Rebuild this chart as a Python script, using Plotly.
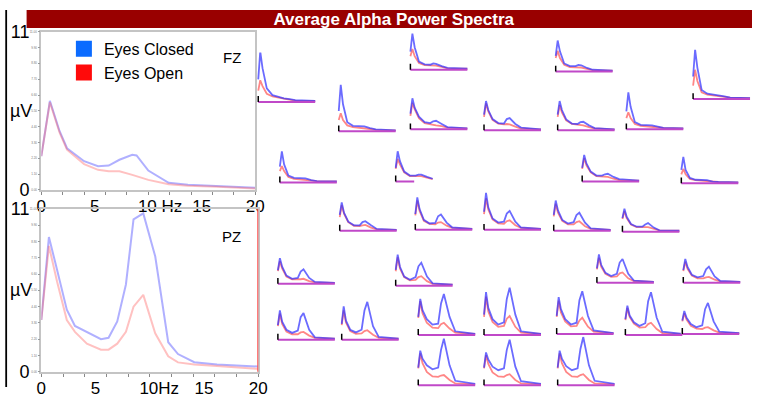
import plotly.graph_objects as go

W, H = 761, 398

# ---------------- data ----------------
FZ_FREQ = [0, 0.8, 1.7, 2.4, 4, 5.3, 6.3, 7.3, 8.5, 8.9, 10, 11.9, 13.7, 16.5, 20]
FZ_CLOSED = [2.35, 6.2, 4.1, 2.9, 2.0, 1.65, 1.7, 2.1, 2.45, 2.4, 1.35, 0.5, 0.37, 0.27, 0.15]
FZ_OPEN = [2.35, 6.1, 4.0, 2.8, 1.8, 1.4, 1.3, 1.3, 1.05, 0.95, 0.7, 0.4, 0.3, 0.22, 0.1]

PZ_FREQ = [0, 0.7, 1.45, 2.35, 3.1, 4.2, 5.5, 6.2, 7.0, 7.8, 8.5, 9.4, 10.5, 11.7, 12.6, 14.1, 16.2, 20]
PZ_CLOSED = [3.5, 9.1, 6.9, 4.2, 3.1, 2.7, 2.2, 2.3, 3.4, 5.9, 10.3, 10.7, 7.8, 2.0, 1.2, 0.65, 0.5, 0.36]
PZ_OPEN = [3.5, 8.5, 6.1, 3.5, 2.7, 1.9, 1.5, 1.5, 1.9, 2.7, 4.4, 5.2, 2.6, 1.05, 0.64, 0.5, 0.4, 0.2]

X_TICK_VALS = [0, 5, 10, 15, 20]
FZ_X_TICK_TEXT = ["0", "5", "\u00a0\u00a0\u00a0\u00a0\u00a010 Hz", "15", "20"]
PZ_X_TICK_TEXT = ["0", "5", "\u00a0\u00a0\u00a0\u00a010Hz", "15", "20"]
Y_SMALL_VALS = [0, 1.1, 2.2, 3.3, 4.4, 5.5, 6.6, 7.7, 8.8, 9.9, 11]
Y_SMALL_TEXT = ["0.00", "1.10", "2.20", "3.30", "4.40", "5.50", "6.60", "7.70", "8.80", "9.90", "11.00"]
Y_BIG_VALS = [0, 11]
Y_BIG_TEXT = ["0", "11"]

F_MINI = [0, 0.7, 1.5, 3, 5, 7, 8, 9, 11, 13, 20]
MINI_CLOSED = [
    [5.0, 11.2, 7.5, 3.0, 1.5, 1.1, 0.9, 0.8, 0.6, 0.4, 0.2],
    [4.0, 8.0, 5.0, 1.8, 1.2, 1.1, 1.4, 1.3, 0.8, 0.4, 0.2],
    [3.5, 6.9, 4.5, 1.8, 1.2, 1.2, 1.5, 1.4, 0.8, 0.4, 0.2],
    [5.0, 11.0, 7.0, 2.0, 1.2, 1.0, 1.0, 0.9, 0.6, 0.3, 0.2],
    [4.5, 10.3, 6.0, 2.0, 1.2, 1.1, 1.2, 1.1, 0.7, 0.4, 0.2],
    [3.5, 6.9, 4.8, 2.8, 1.6, 1.4, 1.8, 1.9, 1.2, 0.5, 0.2],
    [3.5, 6.5, 4.5, 2.5, 1.6, 1.5, 2.5, 2.7, 1.4, 0.6, 0.2],
    [3.5, 6.5, 4.5, 2.4, 1.5, 1.4, 1.8, 1.9, 1.1, 0.5, 0.2],
    [4.0, 8.2, 5.0, 1.6, 1.0, 0.9, 1.0, 0.9, 0.6, 0.3, 0.2],
    [3.5, 6.9, 4.0, 1.5, 1.0, 0.9, 0.9, 0.9, 0.5, 0.3, 0.2],
    [3.0, 6.7, 4.5, 2.2, 1.3, 1.3, 1.5, 1.5, 1.0, 0.6, None],
    [3.0, 5.9, 4.0, 2.2, 1.3, 1.3, 1.6, 1.7, 1.0, 0.5, 0.2],
    [3.0, 5.9, 3.0, 1.2, 0.8, 0.7, 0.8, 0.7, 0.4, 0.3, 0.2],
    [3.5, 6.3, 4.0, 2.0, 1.2, 1.2, 1.9, 2.1, 1.2, 0.4, 0.2],
    [3.5, 7.2, 4.6, 2.2, 1.4, 1.5, 3.0, 3.4, 1.6, 0.5, 0.2],
    [4.0, 8.2, 5.0, 2.5, 1.6, 1.8, 3.6, 4.2, 1.8, 0.5, 0.2],
    [3.5, 6.7, 4.5, 2.4, 1.6, 1.9, 3.5, 4.0, 1.8, 0.5, 0.2],
    [3.0, 5.1, 3.3, 1.7, 1.1, 1.1, 1.6, 1.9, 0.9, 0.3, 0.2],
    [3.0, 5.7, 3.8, 1.8, 1.1, 1.3, 2.7, 3.2, 1.3, 0.4, 0.2],
    [3.5, 6.9, 4.2, 2.0, 1.3, 1.9, 4.3, 5.1, 2.0, 0.5, 0.2],
    [3.2, 6.3, 4.0, 2.2, 1.5, 2.0, 4.5, 5.3, 2.0, 0.5, 0.2],
    [2.8, 5.3, 3.5, 1.8, 1.2, 1.5, 3.0, 3.6, 1.4, 0.4, 0.2],
    [3.2, 6.5, 4.0, 2.2, 1.5, 2.0, 5.0, 5.9, 2.2, 0.5, 0.2],
    [3.5, 7.4, 4.2, 2.2, 1.6, 2.2, 6.5, 8.4, 3.0, 0.6, 0.2],
    [4.0, 8.0, 5.5, 3.5, 2.3, 2.5, 7.0, 9.1, 4.0, 0.8, 0.2],
    [4.5, 9.5, 6.0, 3.5, 2.3, 2.8, 8.0, 10.5, 4.5, 0.8, 0.2],
    [4.0, 8.2, 5.5, 3.3, 2.1, 2.5, 7.5, 9.5, 4.0, 0.8, 0.2],
    [3.5, 6.5, 4.3, 2.8, 2.0, 2.6, 7.5, 9.5, 3.8, 0.7, 0.2],
    [3.0, 5.1, 3.6, 2.2, 1.5, 1.9, 5.5, 6.9, 2.8, 0.5, 0.2],
    [4.0, 7.8, 6.0, 4.5, 3.6, 4.0, 8.0, 10.5, 4.5, 1.0, 0.3],
    [4.0, 7.4, 5.8, 4.2, 3.4, 3.8, 8.0, 10.3, 4.2, 0.9, 0.3],
    [4.0, 7.8, 6.0, 4.3, 3.4, 3.8, 8.2, 10.9, 4.5, 1.0, 0.3],
]
MINI_OPEN = [
    [2.5, 4.8, 3.5, 1.8, 1.2, 0.9, 0.8, 0.7, 0.5, 0.3, 0.2],
    [3.0, 4.6, 3.0, 1.5, 1.0, 0.9, 1.0, 0.9, 0.6, 0.3, 0.2],
    [3.0, 4.6, 3.0, 1.5, 1.0, 0.9, 1.0, 0.9, 0.6, 0.3, 0.2],
    [3.0, 6.5, 4.0, 1.5, 1.0, 0.8, 0.8, 0.7, 0.5, 0.3, 0.2],
    [2.5, 4.0, 2.5, 1.3, 0.9, 0.8, 0.8, 0.7, 0.5, 0.3, 0.2],
    [3.0, 5.9, 4.5, 2.5, 1.4, 1.1, 1.0, 0.9, 0.7, 0.4, 0.2],
    [3.0, 6.0, 4.2, 2.3, 1.5, 1.3, 1.4, 1.3, 0.8, 0.4, 0.2],
    [3.0, 5.6, 4.0, 2.2, 1.4, 1.2, 1.2, 1.1, 0.7, 0.4, 0.2],
    [2.5, 3.8, 2.5, 1.2, 0.8, 0.7, 0.7, 0.6, 0.4, 0.3, 0.2],
    [2.5, 3.6, 2.5, 1.2, 0.8, 0.7, 0.7, 0.6, 0.4, 0.3, 0.2],
    [2.8, 5.0, 3.8, 2.0, 1.2, 1.1, 1.2, 1.2, 0.8, 0.5, None],
    [2.8, 5.2, 3.6, 2.0, 1.2, 1.1, 1.1, 1.0, 0.6, 0.3, 0.2],
    [2.0, 3.2, 2.0, 1.0, 0.7, 0.6, 0.6, 0.5, 0.4, 0.3, 0.2],
    [3.0, 5.7, 3.8, 1.9, 1.1, 1.0, 1.2, 1.3, 0.7, 0.3, 0.2],
    [3.2, 6.5, 4.2, 2.0, 1.3, 1.2, 1.6, 1.7, 0.9, 0.4, 0.2],
    [3.5, 7.0, 4.5, 2.3, 1.4, 1.3, 1.9, 2.1, 1.0, 0.4, 0.2],
    [3.2, 6.0, 4.0, 2.2, 1.4, 1.4, 1.9, 2.1, 1.0, 0.4, 0.2],
    [2.8, 4.6, 3.0, 1.6, 1.0, 0.9, 1.0, 1.0, 0.6, 0.3, 0.2],
    [2.8, 5.0, 3.4, 1.6, 1.0, 0.9, 1.0, 1.1, 0.6, 0.3, 0.2],
    [3.2, 6.3, 3.8, 1.9, 1.2, 1.3, 1.9, 2.1, 1.0, 0.4, 0.2],
    [3.0, 5.6, 3.6, 2.0, 1.3, 1.4, 2.1, 2.3, 1.0, 0.4, 0.2],
    [2.6, 4.7, 3.1, 1.6, 1.0, 1.0, 1.2, 1.3, 0.7, 0.3, 0.2],
    [3.0, 5.8, 3.5, 1.8, 1.2, 1.2, 1.6, 1.7, 0.9, 0.4, 0.2],
    [3.2, 6.5, 3.8, 1.9, 1.3, 1.4, 1.9, 2.1, 1.1, 0.4, 0.2],
    [3.8, 7.5, 4.8, 2.7, 1.6, 1.5, 2.4, 2.7, 1.4, 0.5, 0.2],
    [4.0, 8.5, 5.2, 2.9, 1.8, 2.0, 3.6, 4.2, 1.8, 0.5, 0.2],
    [3.8, 7.4, 4.8, 2.8, 1.7, 1.8, 3.0, 3.6, 1.6, 0.5, 0.2],
    [3.3, 6.0, 4.0, 2.5, 1.6, 1.7, 2.4, 2.7, 1.3, 0.4, 0.2],
    [2.8, 4.6, 3.2, 1.8, 1.2, 1.1, 1.4, 1.5, 0.8, 0.3, 0.2],
    [3.8, 7.2, 5.0, 3.0, 2.0, 1.9, 2.2, 2.3, 1.2, 0.4, 0.2],
    [3.8, 6.8, 4.8, 2.9, 2.0, 1.9, 2.3, 2.5, 1.2, 0.4, 0.2],
    [3.8, 7.2, 5.0, 3.0, 2.0, 1.9, 2.3, 2.5, 1.2, 0.4, 0.2],
]
MINI_BASE_END = [20, 20, 20, 20, 20, 20, 20, 20, 20, 20, 6.5, 20, 20, 20, 20, 20,
                 20, 20, 20, 20, 20, 20, 20, 20, 20, 20, 20, 20, 20, 20, 20, 20]

# ---------------- layout helpers (pixel placement) ----------------
MINI_POS = [
    (258, 97), (413, 63), (561, 65), (701, 94),
    (340, 128), (413, 126), (488, 127), (563, 127), (633, 126),
    (280, 182), (398, 181), (588, 181), (689, 183),
    (341, 233), (418, 232), (488, 232), (559, 233), (629, 234),
    (278, 289), (398, 291), (603, 288), (691, 288),
    (278, 348), (343, 348), (421, 343), (488, 343), (562, 342), (632, 343), (690, 342),
    (421, 397), (488, 397), (563, 397),
]
PX_HZ = 2.9
PX_UV = 4.75


def px_x(p):
    return max(0.0, min(1.0, p / W))


def px_y(p):
    return max(0.0, min(1.0, 1 - p / H))


BLUE_MAIN = "rgba(80,80,255,0.45)"
RED_MAIN = "rgba(255,100,100,0.4)"
BLUE_MINI = "rgba(50,50,255,0.72)"
RED_MINI = "rgba(255,60,60,0.62)"
FONT = "Liberation Sans, Arial, sans-serif"

fig = go.Figure()

# main plots
fig.add_trace(go.Scatter(x=FZ_FREQ, y=FZ_CLOSED, mode="lines", line=dict(color=BLUE_MAIN, width=2),
                         xaxis="x", yaxis="y", showlegend=False, hoverinfo="skip"))
fig.add_trace(go.Scatter(x=FZ_FREQ, y=FZ_OPEN, mode="lines", line=dict(color=RED_MAIN, width=2),
                         xaxis="x", yaxis="y", showlegend=False, hoverinfo="skip"))
fig.add_trace(go.Scatter(x=PZ_FREQ, y=PZ_CLOSED, mode="lines", line=dict(color=BLUE_MAIN, width=2),
                         xaxis="x2", yaxis="y2", showlegend=False, hoverinfo="skip"))
fig.add_trace(go.Scatter(x=PZ_FREQ, y=PZ_OPEN, mode="lines", line=dict(color=RED_MAIN, width=2),
                         xaxis="x2", yaxis="y2", showlegend=False, hoverinfo="skip"))
# register the overlay label axes
fig.add_trace(go.Scatter(x=[None], y=[None], mode="lines", xaxis="x", yaxis="y3",
                         showlegend=False, hoverinfo="skip"))
fig.add_trace(go.Scatter(x=[None], y=[None], mode="lines", xaxis="x2", yaxis="y4",
                         showlegend=False, hoverinfo="skip"))
# legend entries
fig.add_trace(go.Scatter(x=[None], y=[None], mode="markers", name="Eyes Closed",
                         marker=dict(symbol="square", size=20, color="#0b6bff"), xaxis="x", yaxis="y"))
fig.add_trace(go.Scatter(x=[None], y=[None], mode="markers", name="Eyes Open",
                         marker=dict(symbol="square", size=20, color="#ff0a0a"), xaxis="x", yaxis="y"))

layout = dict(
    width=W, height=H, margin=dict(l=0, r=0, t=0, b=0),
    paper_bgcolor="white", plot_bgcolor="white",
    font=dict(family=FONT, color="black"),
    showlegend=True,
    legend=dict(x=60 / W, y=1 - 23 / H, xanchor="left", yanchor="top", bgcolor="rgba(0,0,0,0)",
                font=dict(size=16, family=FONT), itemsizing="trace", tracegroupgap=0),
    title=dict(text="Average Alpha Power Spectra", x=396 / W, xanchor="center", y=1 - 9.5 / H,
               yanchor="middle", xref="paper", yref="paper",
               font=dict(family=FONT, size=17, color="white", weight="bold")),
)

main_axes = [
    ("x", "y", "y3", (37, 255), (23, 190), FZ_X_TICK_TEXT),
    ("x2", "y2", "y4", (37, 258), (210, 382), PZ_X_TICK_TEXT),
]
for xa, ya, yb, (xl, xr), (yt, ybot), ttext in main_axes:
    xk = "xaxis" + xa[1:]
    yk = "yaxis" + ya[1:]
    ybk = "yaxis" + yb[1:]
    layout[xk] = dict(domain=[px_x(xl), px_x(xr)], range=[0, 20], anchor=ya,
                      tickvals=X_TICK_VALS, ticktext=ttext, ticks="", ticklen=0,
                      tickfont=dict(size=17), showgrid=False, zeroline=False,
                      showline=True, linecolor="#c4c4c4", linewidth=1.5, mirror=True,
                      minor=dict(dtick=2, tick0=0, ticks="outside", ticklen=3, tickcolor="#888"))
    layout[yk] = dict(domain=[px_y(ybot), px_y(yt)], range=[0, 11], anchor=xa,
                      tickvals=Y_SMALL_VALS, ticktext=Y_SMALL_TEXT, ticks="outside", ticklen=2,
                      tickcolor="#999", tickfont=dict(size=3, color="#777"),
                      showgrid=False, zeroline=False,
                      showline=True, linecolor="#c4c4c4", linewidth=1.5, mirror=True)
    layout[ybk] = dict(overlaying=ya, anchor="free", position=px_x(25), side="left",
                       range=[0, 11], tickvals=Y_BIG_VALS, ticktext=Y_BIG_TEXT, ticks="",
                       tickfont=dict(size=18), showgrid=False, zeroline=False, showline=False)

shapes = [
    dict(type="rect", xref="paper", yref="paper", x0=px_x(22), x1=1, y0=px_y(19), y1=1,
         fillcolor="#990000", line=dict(width=0), layer="below"),
    dict(type="line", xref="paper", yref="paper", x0=px_x(1.2), x1=px_x(1.2), y0=0, y1=1,
         line=dict(color="black", width=1.8)),
    dict(type="line", xref="x2", yref="y2 domain", x0=20, x1=20, y0=0, y1=1,
         line=dict(color="#ff5050", width=2)),
]

annotations = [
    dict(text="µV", xref="paper", yref="y domain", x=px_x(3), y=0.5, xanchor="left",
         yanchor="middle", showarrow=False, font=dict(size=18)),
    dict(text="µV", xref="paper", yref="y2 domain", x=px_x(3), y=0.5, xanchor="left",
         yanchor="middle", showarrow=False, font=dict(size=18)),
    dict(text="FZ", xref="x domain", yref="y domain", x=0.84, y=0.84, xanchor="left",
         yanchor="middle", showarrow=False, font=dict(size=15)),
    dict(text="PZ", xref="x2 domain", yref="y2 domain", x=0.825, y=0.83, xanchor="left",
         yanchor="middle", showarrow=False, font=dict(size=15)),
]

for i, (x0, yb) in enumerate(MINI_POS):
    n = 5 + i
    xa, ya = f"x{n}", f"y{n}"
    layout[f"xaxis{n}"] = dict(domain=[px_x(x0 - 0.5 * PX_HZ), px_x(x0 + 20.3 * PX_HZ)],
                               range=[-0.5, 20.3], anchor=ya, visible=False)
    layout[f"yaxis{n}"] = dict(domain=[px_y(yb + 0.4 * PX_UV), px_y(yb - 11 * PX_UV)],
                               range=[-0.4, 11], anchor=xa, visible=False)
    shapes.append(dict(type="line", xref=xa, yref=ya, x0=0, x1=MINI_BASE_END[i], y0=0, y1=0,
                       line=dict(color="#c048c8", width=2)))
    shapes.append(dict(type="line", xref=xa, yref=ya, x0=0, x1=0, y0=0, y1=1.3,
                       line=dict(color="black", width=1.5)))
    fig.add_trace(go.Scatter(x=F_MINI, y=MINI_OPEN[i], mode="lines", xaxis=xa, yaxis=ya,
                             line=dict(color=RED_MINI, width=1.8), showlegend=False,
                             hoverinfo="skip", connectgaps=False))
    fig.add_trace(go.Scatter(x=F_MINI, y=MINI_CLOSED[i], mode="lines", xaxis=xa, yaxis=ya,
                             line=dict(color=BLUE_MINI, width=1.8), showlegend=False,
                             hoverinfo="skip", connectgaps=False))

layout["shapes"] = shapes
layout["annotations"] = annotations
fig.update_layout(**layout)
fig.write_html("out.html")
